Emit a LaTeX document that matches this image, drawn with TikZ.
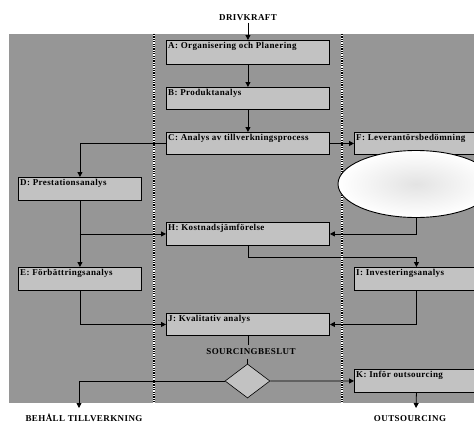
\documentclass[tikz,border=0pt]{standalone}
\usepackage{fontspec}
\setmainfont{Liberation Serif}
\newfontfamily\spacedserif[LetterSpace=4.5]{Liberation Serif}
\usetikzlibrary{arrows.meta,shapes.geometric}
\definecolor{bggray}{gray}{0.59}
\definecolor{boxgray}{gray}{0.76}
\begin{document}
\begin{tikzpicture}[x=1pt,y=-1pt,
  txt/.style={font=\spacedserif\fontsize{9pt}{10pt}\selectfont\bfseries},
  stage/.style={draw=black,line width=0.9pt,fill=boxgray,anchor=north west,
    inner sep=0pt,minimum width=#1},
  stage/.default=163pt,
  boxlabel/.style={label={[txt,anchor=north west,inner sep=1.5pt,xshift=0.5pt,yshift=-0.3pt]north west:{#1}}},
  arr/.style={-{Triangle[length=5pt,width=5pt]},line width=0.8pt},
  link/.style={line width=0.8pt},
  lane/.style={line width=1.4pt}]
\useasboundingbox (0,0) rectangle (474,423);
\clip (0,0) rectangle (474,423);

% shaded work area and lane separators
\fill[bggray] (9,34) rectangle (480,403);
\foreach \lx in {154,342}{
  \draw[lane,white] (\lx,34) -- (\lx,403);
  \draw[lane,black,dash pattern=on 1.2pt off 1.2pt] (\lx,34) -- (\lx,403);
}

% process stages
\node[stage,minimum height=24pt,boxlabel={A: Organisering och Planering}] (A) at (166,40) {};
\node[stage,minimum height=22pt,boxlabel={B: Produktanalys}] (B) at (166,87) {};
\node[stage,minimum height=22pt,boxlabel={C: Analys av tillverkningsprocess}] (C) at (166,132) {};
\node[stage=123pt,minimum height=23pt,boxlabel={D: Prestationsanalys}] (D) at (18,177) {};
\node[stage=124pt,minimum height=22pt,boxlabel={F: Leverantörsbedömning}] (F) at (354,132) {};
\node[stage,minimum height=23pt,boxlabel={H: Kostnadsjämförelse}] (H) at (166,222) {};
\node[stage=123pt,minimum height=23pt,boxlabel={E: Förbättringsanalys}] (E) at (18,267) {};
\node[stage=124pt,minimum height=23pt,boxlabel={I: Investeringsanalys}] (I) at (354,267) {};
\node[stage,minimum height=22pt,boxlabel={J: Kvalitativ analys}] (J) at (166,313) {};
\node[stage=124pt,minimum height=23pt,boxlabel={K: Inför outsourcing}] (K) at (354,369) {};

% supplier evaluation bubble
\node[ellipse,draw=black,line width=0.9pt,minimum width=156pt,minimum height=67pt,
  inner sep=0pt,inner color=black!11,outer color=white] (ell) at (416,184) {};

% decision
\node[diamond,draw=black,line width=0.6pt,fill=boxgray,minimum width=45pt,
  minimum height=34pt,inner sep=0pt] (dec) at (247.5,381) {};

% texts
\node[txt,inner sep=1.5pt] (drive) at (248,18) {DRIVKRAFT};
\node[txt,inner sep=3.5pt] (sb) at (251,352) {SOURCINGBESLUT};
\node[txt,anchor=base,inner sep=0.5pt] (keep) at (84,421) {BEHÅLL TILLVERKNING};
\node[txt,anchor=base,inner sep=0.5pt] (out) at (410,421) {OUTSOURCING};
\coordinate (keepend) at (79,408);
\coordinate (outend) at (416,408);

% connectors
\draw[arr] (drive.south -| A.north) -- (A.north);
\draw[arr] (A.south) -- (B.north);
\draw[arr] (B.south) -- (C.north);
\draw[arr] (C.west) -| (D.north);
\draw[arr] (C.east) -- (F.west);
\draw[arr] (D.south) -- (E.north);
\draw[arr] (D.south |- H.west) -- (H.west);
\draw[arr] (ell.south) |- (H.east);
\draw[arr] (H.south) -- ++(0,11) -| (I.north);
\draw[arr] (E.south) |- (J.west);
\draw[arr] (I.south) |- (J.east);
\draw[link] (J.south) -- (J.south |- sb.north);
\draw[link] (dec.north |- sb.south) -- (dec.north);
\draw[arr] (dec.west) -| (keepend);
\draw[arr] (dec.east) -- (K.west);
\draw[arr] (K.south) -- (outend);
\end{tikzpicture}
\end{document}
